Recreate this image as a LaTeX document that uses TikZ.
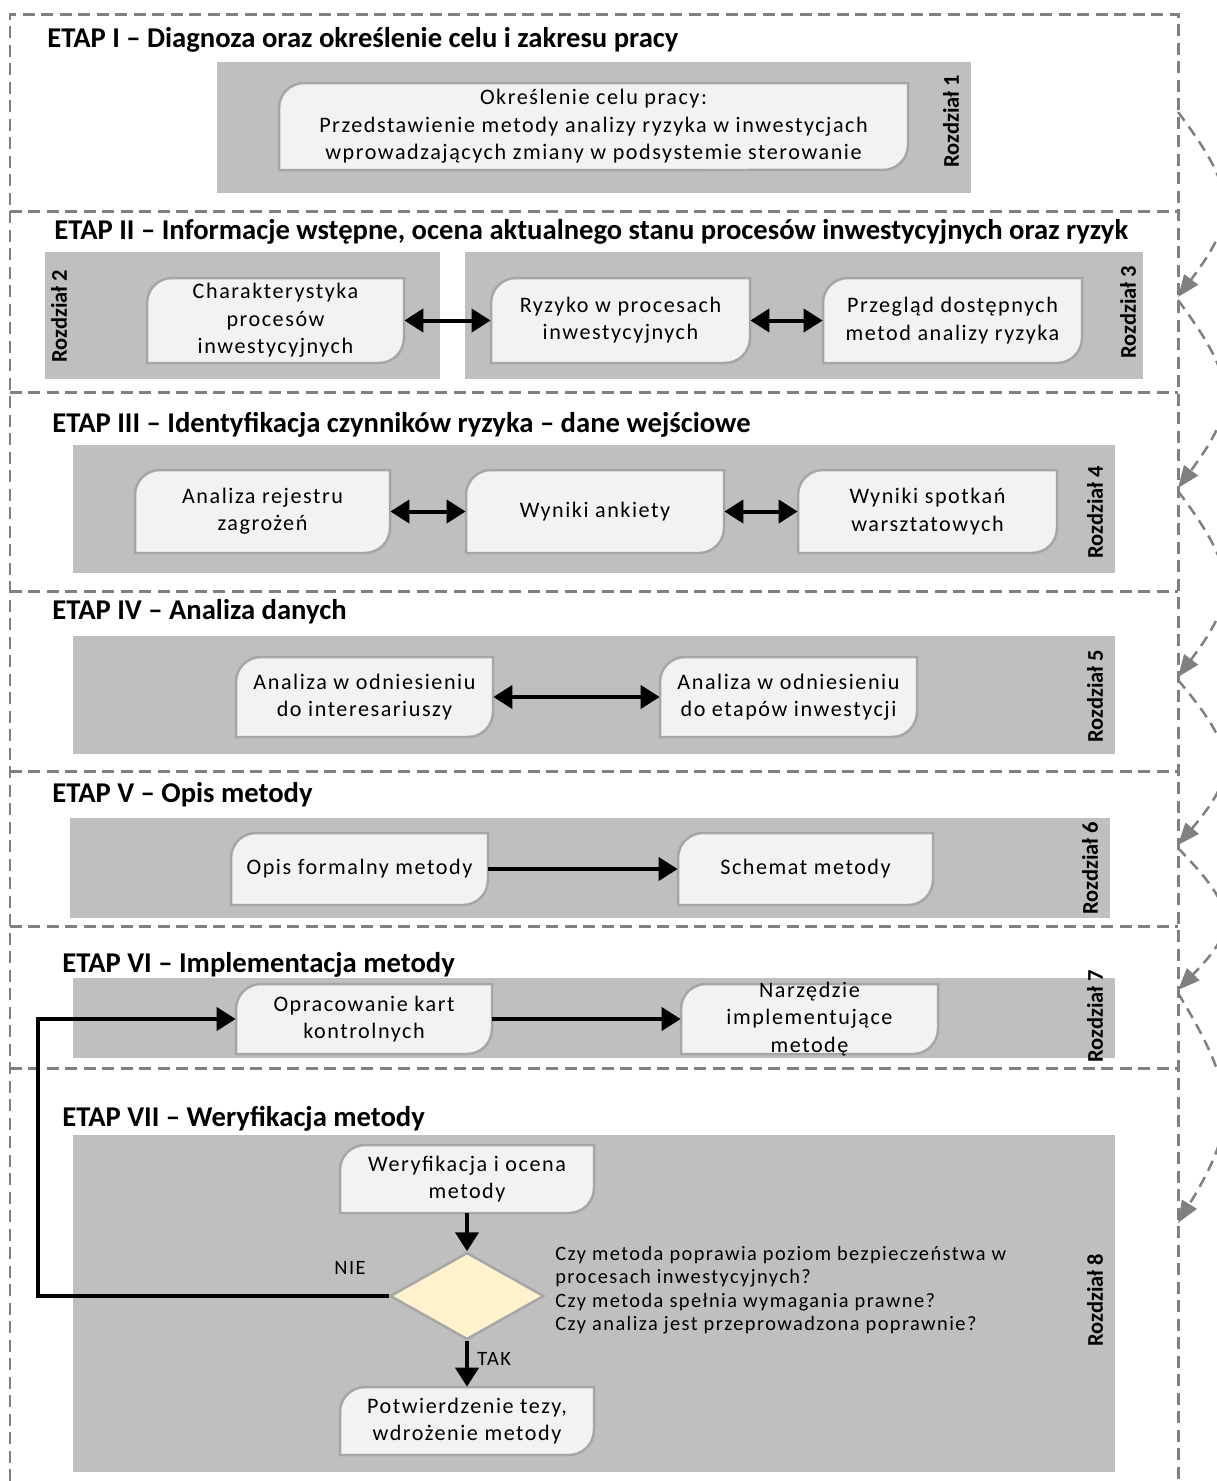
\documentclass[tikz,border=0pt]{standalone}
\usepackage{fontspec}
\setmainfont{Carlito}
\newfontfamily\bodyfont[LetterSpace=7]{Carlito}
\usetikzlibrary{arrows.meta,shapes.geometric}

\definecolor{panelgray}{HTML}{BFBFBF}
\definecolor{boxfill}{HTML}{F2F2F2}
\definecolor{boxedge}{HTML}{A6A6A6}
\definecolor{frameline}{HTML}{808080}
\definecolor{decision}{HTML}{FFF2CC}

\tikzset{
  panel/.style={fill=panelgray, draw=none},
  boxshape/.style={fill=boxfill, draw=boxedge, line width=0.05cm},
  boxtext/.style={font=\bodyfont\fontsize{12.6}{15.6}\selectfont, align=center, inner sep=0pt},
  plaintext/.style={font=\bodyfont\fontsize{11.6}{13.4}\selectfont, inner sep=0pt},
  heading/.style={font=\bfseries\fontsize{16.3}{19}\selectfont, anchor=west, inner sep=0pt},
  chapter/.style={font=\bfseries\fontsize{12.8}{15}\selectfont, rotate=90, inner sep=0pt},
  frame/.style={draw=frameline, line width=0.06cm, dash pattern=on 0.24cm off 0.13cm},
  flow/.style={line width=0.08cm, -{Triangle[length=0.38cm,width=0.46cm]}},
  twoway/.style={line width=0.08cm, {Triangle[length=0.38cm,width=0.46cm]}-{Triangle[length=0.38cm,width=0.46cm]}},
  link/.style={draw=frameline, line width=0.05cm, dash pattern=on 0.22cm off 0.14cm,
    -{Triangle[length=0.44cm,width=0.34cm]}},
}

% box with rounded top-left and bottom-right corners:
% name, x1, y1, x2, y2, text
\newcommand\flowbox[6]{%
  \draw[boxshape] (#2,#5) -- (#2,#3+25)
    arc[start angle=180,end angle=90,radius=0.5cm] -- (#4,#3) -- (#4,#5-25)
    arc[start angle=0,end angle=-90,radius=0.5cm] -- cycle;
  \node[boxtext, minimum width={(#4-#2)*0.02cm}, minimum height={(#5-#3)*0.02cm}]
    (#1) at ({(#2+#4)/2},{(#3+#5)/2}) {#6};
}

\begin{document}
\begin{tikzpicture}[x=0.02cm, y=-0.02cm]
\useasboundingbox (0,0) rectangle (1217,1481);
\fill[white] (0,0) rectangle (1217,1481);

% stage frames
\draw[frame] (10,1481) -- (10,14) -- (1178,14) -- (1178,1481);
\foreach \yy in {211,392,591,771,926,1068}
  \draw[frame] (10,\yy) -- (1178,\yy);

% ETAP I
\node[heading] (h1) at (47,40) {ETAP I – Diagnoza oraz określenie celu i zakresu pracy};
\fill[panel] (217,62) rectangle (971,193);
\flowbox{goal}{279}{83}{908}{170}{Określenie celu pracy:\\Przedstawienie metody analizy ryzyka w inwestycjach\\wprowadzających zmiany w podsystemie sterowanie}
\node[chapter] (ch1) at (951,121) {Rozdział 1};

% ETAP II
\node[heading] (h2) at (54,232) {ETAP II – Informacje wstępne, ocena aktualnego stanu procesów inwestycyjnych oraz ryzyk};
\fill[panel] (45,252) rectangle (440,379);
\fill[panel] (465,252) rectangle (1143,379);
\node[chapter] (ch2) at (59,316) {Rozdział 2};
\flowbox{char}{147}{278}{404}{363}{Charakterystyka\\procesów\\inwestycyjnych}
\flowbox{risk}{491}{278}{750}{363}{Ryzyko w procesach\\inwestycyjnych}
\flowbox{review}{823}{278}{1082}{363}{Przegląd dostępnych\\metod analizy ryzyka}
\node[chapter] (ch3) at (1128,312) {Rozdział 3};
\draw[twoway] (char) -- (risk);
\draw[twoway] (risk) -- (review);

% ETAP III
\node[heading] (h3) at (52,425) {ETAP III – Identyfikacja czynników ryzyka – dane wejściowe};
\fill[panel] (73,445) rectangle (1115,573);
\flowbox{reg}{135}{470}{390}{553}{Analiza rejestru\\zagrożeń}
\flowbox{survey}{466}{470}{724}{553}{Wyniki ankiety}
\flowbox{work}{798}{470}{1057}{553}{Wyniki spotkań\\warsztatowych}
\node[chapter] (ch4) at (1095,512) {Rozdział 4};
\draw[twoway] (reg) -- (survey);
\draw[twoway] (survey) -- (work);

% ETAP IV
\node[heading] (h4) at (52,612) {ETAP IV – Analiza danych};
\fill[panel] (73,636) rectangle (1115,754);
\flowbox{stake}{236}{657}{493}{737}{Analiza w odniesieniu\\do interesariuszy}
\flowbox{phase}{660}{657}{917}{737}{Analiza w odniesieniu\\do etapów inwestycji}
\node[chapter] (ch5) at (1095,696) {Rozdział 5};
\draw[twoway] (stake) -- (phase);

% ETAP V
\node[heading] (h5) at (52,795) {ETAP V – Opis metody};
\fill[panel] (70,818) rectangle (1110,918);
\flowbox{formal}{231}{833}{488}{905}{Opis formalny metody}
\flowbox{scheme}{678}{833}{933}{905}{Schemat metody}
\node[chapter] (ch6) at (1090,868) {Rozdział 6};
\draw[flow] (formal) -- (scheme);

% ETAP VI
\node[heading] (h6) at (62,965) {ETAP VI – Implementacja metody};
\fill[panel] (73,978) rectangle (1115,1058);
\flowbox{cards}{236}{984}{492}{1054}{Opracowanie kart\\kontrolnych}
\flowbox{tool}{681}{984}{938}{1054}{Narzędzie\\implementujące\\metodę}
\node[chapter] (ch7) at (1095,1016) {Rozdział 7};
\draw[flow] (cards) -- (tool);

% ETAP VII
\node[heading] (h7) at (62,1119) {ETAP VII – Weryfikacja metody};
\fill[panel] (73,1135) rectangle (1115,1472);
\flowbox{verify}{340}{1145}{594}{1213}{Weryfikacja i ocena\\metody}
\node[diamond, fill=decision, draw=boxedge, line width=0.05cm, inner sep=0pt,
      minimum width=3.08cm, minimum height=1.74cm] (dec) at (467,1296) {};
\flowbox{confirm}{340}{1387}{594}{1455}{Potwierdzenie tezy,\\wdrożenie metody}
\node[plaintext, anchor=west, align=left] (quest) at (555,1290)
  {Czy metoda poprawia poziom bezpieczeństwa w\\procesach inwestycyjnych?\\Czy metoda spełnia wymagania prawne?\\Czy analiza jest przeprowadzona poprawnie?};
\node[chapter] (ch8) at (1095,1300) {Rozdział 8};
\draw[flow] (verify) -- (dec);
\draw[flow] (dec) -- (confirm);
\node[plaintext, anchor=west] (tak) at (477,1359) {TAK};
\node[plaintext] (nie) at (350,1268) {NIE};
\coordinate (back) at (38,1296);
\draw[flow] (dec.west) -- (back) |- (cards.west);

% links between consecutive stages
\coordinate (s1) at (1178,112);
\coordinate (t1) at (1178,297);
\coordinate (s2) at (1178,300);
\coordinate (t2) at (1178,488);
\coordinate (s3) at (1178,491);
\coordinate (t3) at (1178,677);
\coordinate (s4) at (1178,680);
\coordinate (t4) at (1178,845);
\coordinate (s5) at (1178,848);
\coordinate (t5) at (1178,990);
\coordinate (s6) at (1178,993);
\coordinate (t6) at (1178,1223);
\begin{scope}
  \clip (0,0) rectangle (1217,1481);
  \draw[link] (s1) .. controls +(60,80) and +(60,-80) .. (t1);
  \draw[link] (s2) .. controls +(60,81) and +(60,-81) .. (t2);
  \draw[link] (s3) .. controls +(60,80) and +(60,-80) .. (t3);
  \draw[link] (s4) .. controls +(60,71) and +(60,-71) .. (t4);
  \draw[link] (s5) .. controls +(60,62) and +(60,-62) .. (t5);
  \draw[link] (s6) .. controls +(60,99) and +(60,-99) .. (t6);
\end{scope}
\end{tikzpicture}
\end{document}
